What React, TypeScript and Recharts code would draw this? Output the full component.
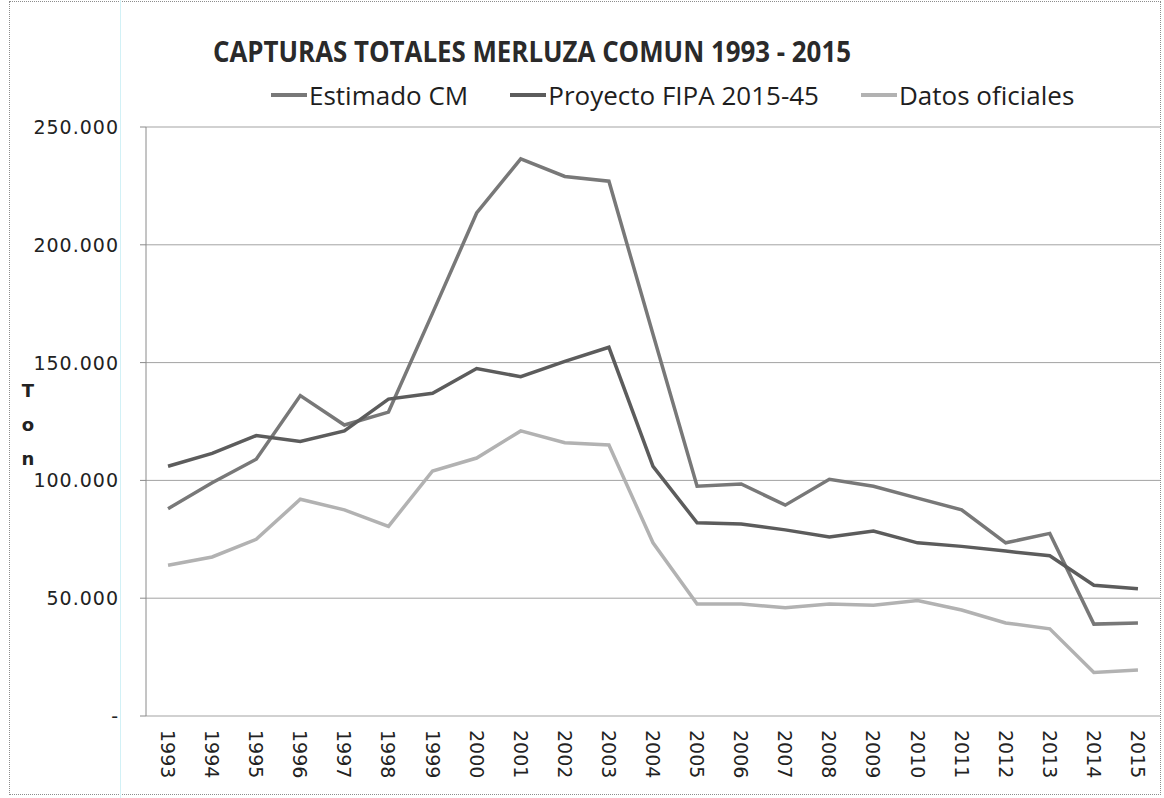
import React from 'react';
import { LineChart, Line, XAxis, YAxis, CartesianGrid, Legend, Label } from 'recharts';

const years = ['1993','1994','1995','1996','1997','1998','1999','2000','2001','2002','2003','2004','2005','2006','2007','2008','2009','2010','2011','2012','2013','2014','2015'];
const estimadoCM = [88000, 99000, 109000, 136000, 123500, 129000, 171000, 213500, 236500, 229000, 227000, 162000, 97500, 98500, 89500, 100500, 97500, 92500, 87500, 73500, 77500, 39000, 39500];
const proyectoFIPA = [106000, 111500, 119000, 116500, 121000, 134500, 137000, 147500, 144000, 150500, 156500, 106000, 82000, 81500, 79000, 76000, 78500, 73500, 72000, 70000, 68000, 55500, 54000];
const datosOficiales = [64000, 67500, 75000, 92000, 87500, 80500, 104000, 109500, 121000, 116000, 115000, 73500, 47500, 47500, 46000, 47500, 47000, 49000, 45000, 39500, 37000, 18500, 19500];
const yTicks = [0, 50000, 100000, 150000, 200000, 250000];
const seriesNames = ['Estimado CM', 'Proyecto FIPA 2015-45', 'Datos oficiales'];
const seriesColors = ['#787878', '#5c5c5c', '#b2b2b2'];
const title = 'CAPTURAS TOTALES MERLUZA COMUN 1993 - 2015';
const yLabelLetters = ['T', 'o', 'n'];
const edgeTicks = years.map((_, i) => i).concat([years.length]);

const data = years.map((y, i) => ({
  year: y,
  est: estimadoCM[i],
  fipa: proyectoFIPA[i],
  ofi: datosOficiales[i],
}));

const W = 1164;
const H = 798;
const PLOT_LEFT = 146;
const PLOT_RIGHT_MARGIN = 4;
const plotWidth = W - PLOT_LEFT - PLOT_RIGHT_MARGIN;
const halfBand = plotWidth / years.length / 2;

const tickFont = '"DejaVu Sans", sans-serif';

const fmtY = (v: number) => (v === 0 ? '-' : `${v / 1000}.000`);

const XTick = (props: any) => {
  const { x, y, payload } = props;
  return (
    <text
      transform={`translate(${x},${y + 6}) rotate(90)`}
      textAnchor="start"
      dominantBaseline="central"
      fontFamily={tickFont}
      fontSize={19}
      fill="#222"
    >
      {payload.value}
    </text>
  );
};

const YTick = (props: any) => {
  const { x, y, payload } = props;
  return (
    <text x={x} y={y} textAnchor="end" dominantBaseline="central" fontFamily={tickFont} fontSize={19} letterSpacing={1} fill="#222">
      {fmtY(payload.value)}
    </text>
  );
};

const TonLabel = (props: any) => {
  const { viewBox } = props;
  const cy = viewBox ? viewBox.y + viewBox.height / 2 : 430;
  return (
    <text fontFamily={tickFont} fontSize={18} fontWeight="bold" fill="#222" textAnchor="middle">
      {yLabelLetters.map((l, i) => (
        <tspan key={i} x={28} y={cy - 31 + i * 34} dominantBaseline="central">
          {l}
        </tspan>
      ))}
    </text>
  );
};

const LegendContent = () => (
  <div style={{ display: 'flex', alignItems: 'center', fontFamily: '"Open Sans", sans-serif', fontSize: 26, color: '#1e1e1e', whiteSpace: 'nowrap' }}>
    {seriesNames.map((n, i) => (
      <div key={n} style={{ display: 'flex', alignItems: 'center', marginRight: 42 }}>
        <span style={{ display: 'inline-block', width: 36, height: 4, background: seriesColors[i], marginRight: 2 }} />
        <span>{n}</span>
      </div>
    ))}
  </div>
);

export default function App() {
  return (
    <div style={{ position: 'absolute', left: 0, top: 0, width: W, height: H, background: '#fff' }}>
      <div style={{ position: 'absolute', left: 9, top: 1, width: 1152, height: 794, border: '1px dotted #8c8c8c', boxSizing: 'border-box' }} />
      <div style={{ position: 'absolute', left: 120, top: 0, width: 1, height: H, background: '#d2f1f6' }} />
      <svg style={{ position: 'absolute', left: 0, top: 0 }} width={W} height={110}>
        <text x={213} y={62} fontFamily='"Open Sans", sans-serif' fontWeight="bold" fontSize={28} fill="#2a2a2a" textLength={638} lengthAdjust="spacingAndGlyphs">
          {title}
        </text>
      </svg>
      <LineChart
        width={W}
        height={H}
        data={data}
        margin={{ top: 127, right: PLOT_RIGHT_MARGIN, bottom: 22, left: 0 }}
        style={{ position: 'absolute', left: 0, top: 0 }}
      >
        <CartesianGrid vertical={false} stroke="#a3a3a3" strokeWidth={1} />
        <XAxis
          type="number"
          domain={[0, years.length]}
          ticks={edgeTicks}
          height={0}
          tickSize={7}
          tickFormatter={() => ''}
          axisLine={{ stroke: '#8a8a8a' }}
          tickLine={{ stroke: '#8a8a8a' }}
          allowDataOverflow
        />
        <XAxis
          xAxisId="cat"
          dataKey="year"
          type="category"
          height={60}
          axisLine={false}
          tickLine={false}
          interval={0}
          padding={{ left: halfBand, right: halfBand }}
          tick={<XTick />}
        />
        <YAxis
          domain={[0, 250000]}
          ticks={yTicks}
          width={PLOT_LEFT}
          tickSize={6}
          tickMargin={21}
          axisLine={{ stroke: '#8a8a8a' }}
          tickLine={{ stroke: '#8a8a8a' }}
          tick={<YTick />}
          interval={0}
        >
          <Label content={<TonLabel />} />
        </YAxis>
        <Legend
          layout="horizontal"
          verticalAlign="middle"
          align="center"
          width={900}
          wrapperStyle={{ top: 77, left: 271, width: 900 }}
          content={<LegendContent />}
        />
        <Line xAxisId="cat" type="linear" dataKey="est" name={seriesNames[0]} stroke={seriesColors[0]} strokeWidth={3.5} dot={false} isAnimationActive={false} />
        <Line xAxisId="cat" type="linear" dataKey="fipa" name={seriesNames[1]} stroke={seriesColors[1]} strokeWidth={3.5} dot={false} isAnimationActive={false} />
        <Line xAxisId="cat" type="linear" dataKey="ofi" name={seriesNames[2]} stroke={seriesColors[2]} strokeWidth={3.5} dot={false} isAnimationActive={false} />
      </LineChart>
    </div>
  );
}
